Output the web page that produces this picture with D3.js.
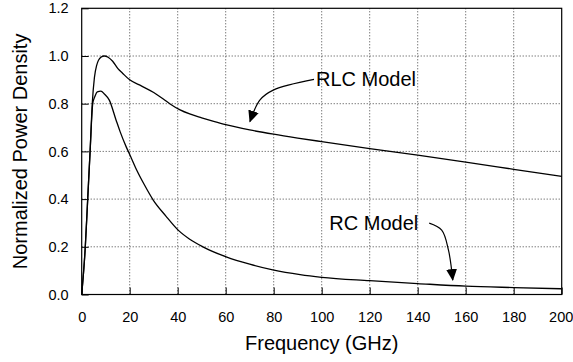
<!DOCTYPE html>
<html>
<head>
<meta charset="utf-8">
<script src="https://cdn.jsdelivr.net/npm/d3@7"></script>
<style>
  body { margin: 0; background: #fff; }
  svg text { font-family: Arial, "Liberation Sans", sans-serif; fill: #000; }
</style>
</head>
<body>
<div id="chart"></div>
<script>
// values (frequency in GHz, normalized density)
const rlcFreq = [0, 1.5, 2.5, 3.5, 4.4, 5.3, 6.2, 8, 9.4, 11, 12.9, 15, 17.1, 20, 25, 30, 34, 37, 41, 45, 50, 55, 60, 70, 80, 90, 100, 120, 140, 160, 180, 200];
const rlcValue = [0, 0.2, 0.4, 0.6, 0.8, 0.91, 0.96, 0.995, 1.0, 0.995, 0.978, 0.948, 0.927, 0.9, 0.874, 0.847, 0.82, 0.798, 0.774, 0.757, 0.741, 0.726, 0.712, 0.69, 0.672, 0.656, 0.641, 0.612, 0.584, 0.555, 0.525, 0.495];

const rcFreq = [0, 1.5, 2.5, 3.5, 4.6, 5.5, 6.5, 8, 9.5, 11.5, 14.3, 16, 18.5, 20.1, 23, 26, 29.8, 35, 40.2, 45, 50.5, 60.2, 70, 79.6, 91, 100, 120, 140, 160, 180, 200];
const rcValue = [0, 0.2, 0.4, 0.6, 0.8, 0.83, 0.85, 0.853, 0.84, 0.815, 0.732, 0.683, 0.62, 0.585, 0.52, 0.462, 0.396, 0.33, 0.27, 0.232, 0.2, 0.158, 0.127, 0.103, 0.083, 0.072, 0.058, 0.046, 0.035, 0.029, 0.024];

const xTicks = [0, 20, 40, 60, 80, 100, 120, 140, 160, 180, 200];
const yTicks = [0, 0.2, 0.4, 0.6, 0.8, 1.0, 1.2];

// annotation labels and arrow paths, in data units
const labels = [
  { text: "RLC Model", x: 97.6, y: 0.874 },
  { text: "RC Model", x: 103.2, y: 0.27 }
];
const arrows = [
  [[96.8, 0.902], [79.8, 0.857], [74.3, 0.816], [70.1, 0.725]],
  [[144.8, 0.299], [150, 0.27], [152.8, 0.187], [154.6, 0.061]]
];

const W = 573, H = 362;
const margin = { top: 8.3, right: 11.3, bottom: 67.5, left: 81.7 };
const width = W - margin.left - margin.right;
const height = H - margin.top - margin.bottom;

const svg = d3.select("#chart").append("svg")
  .attr("width", W)
  .attr("height", H);

const g = svg.append("g")
  .attr("transform", "translate(" + margin.left + "," + margin.top + ")");

const x = d3.scaleLinear().domain([0, 200]).range([0, width]);
const y = d3.scaleLinear().domain([0, 1.2]).range([height, 0]);

// dotted grid
g.selectAll(".vgrid")
  .data(xTicks.slice(1, -1))
  .enter().append("line")
  .attr("x1", d => x(d)).attr("x2", d => x(d))
  .attr("y1", 0).attr("y2", height)
  .attr("stroke", "#444").attr("stroke-width", 1)
  .attr("stroke-dasharray", "1,2");

g.selectAll(".hgrid")
  .data(yTicks.slice(1, -1))
  .enter().append("line")
  .attr("x1", 0).attr("x2", width)
  .attr("y1", d => y(d)).attr("y2", d => y(d))
  .attr("stroke", "#444").attr("stroke-width", 1)
  .attr("stroke-dasharray", "1,2");

// axes, ticks pointing inward
const xAxis = g.append("g")
  .attr("transform", "translate(0," + height + ")")
  .call(d3.axisBottom(x).tickValues(xTicks).tickSize(-7).tickPadding(17).tickFormat(d3.format("d")));

const yAxis = g.append("g")
  .call(d3.axisLeft(y).tickValues(yTicks).tickSize(-7).tickPadding(13).tickFormat(d3.format(".1f")));

[xAxis, yAxis].forEach(a => {
  a.select(".domain").remove();
  a.selectAll("line").attr("stroke", "#000");
  a.selectAll("text").attr("font-size", 14.5).attr("fill", "#000")
    .style("font-family", "Arial, 'Liberation Sans', sans-serif");
});
// keep the last x label inside the window
xAxis.selectAll(".tick text").filter(d => d === 200).attr("dx", -1);

// frame
g.append("rect")
  .attr("x", 0).attr("y", 0)
  .attr("width", width).attr("height", height)
  .attr("fill", "none").attr("stroke", "#000").attr("stroke-width", 1.2);

// curves
const line = d3.line()
  .x(d => x(d[0]))
  .y(d => y(d[1]))
  .curve(d3.curveMonotoneX);

const series = [
  d3.zip(rlcFreq, rlcValue),
  d3.zip(rcFreq, rcValue)
];

g.selectAll(".curve")
  .data(series)
  .enter().append("path")
  .attr("d", line)
  .attr("fill", "none")
  .attr("stroke", "#000")
  .attr("stroke-width", 1.3);

// annotations
svg.append("defs").append("marker")
  .attr("id", "head")
  .attr("markerUnits", "userSpaceOnUse")
  .attr("markerWidth", 12).attr("markerHeight", 12)
  .attr("viewBox", "0 -5 11 10")
  .attr("refX", 10).attr("refY", 0)
  .attr("orient", "auto")
  .append("path")
  .attr("d", "M0,-5L11,0L0,5Z")
  .attr("fill", "#000");

const arrowLine = d3.line()
  .x(d => x(d[0]))
  .y(d => y(d[1]))
  .curve(d3.curveCatmullRom);

g.selectAll(".arrow")
  .data(arrows)
  .enter().append("path")
  .attr("d", arrowLine)
  .attr("fill", "none")
  .attr("stroke", "#000")
  .attr("stroke-width", 1.2)
  .attr("marker-end", "url(#head)");

g.selectAll(".label")
  .data(labels)
  .enter().append("text")
  .attr("x", d => x(d.x))
  .attr("y", d => y(d.y))
  .attr("font-size", 20)
  .text(d => d.text);

// axis titles
svg.append("text")
  .attr("x", margin.left + width / 2)
  .attr("y", 350)
  .attr("text-anchor", "middle")
  .attr("font-size", 20)
  .text("Frequency (GHz)");

svg.append("text")
  .attr("transform", "translate(27," + (margin.top + height / 2) + ") rotate(-90)")
  .attr("text-anchor", "middle")
  .attr("font-size", 20)
  .text("Normalized Power Density");
</script>
</body>
</html>
